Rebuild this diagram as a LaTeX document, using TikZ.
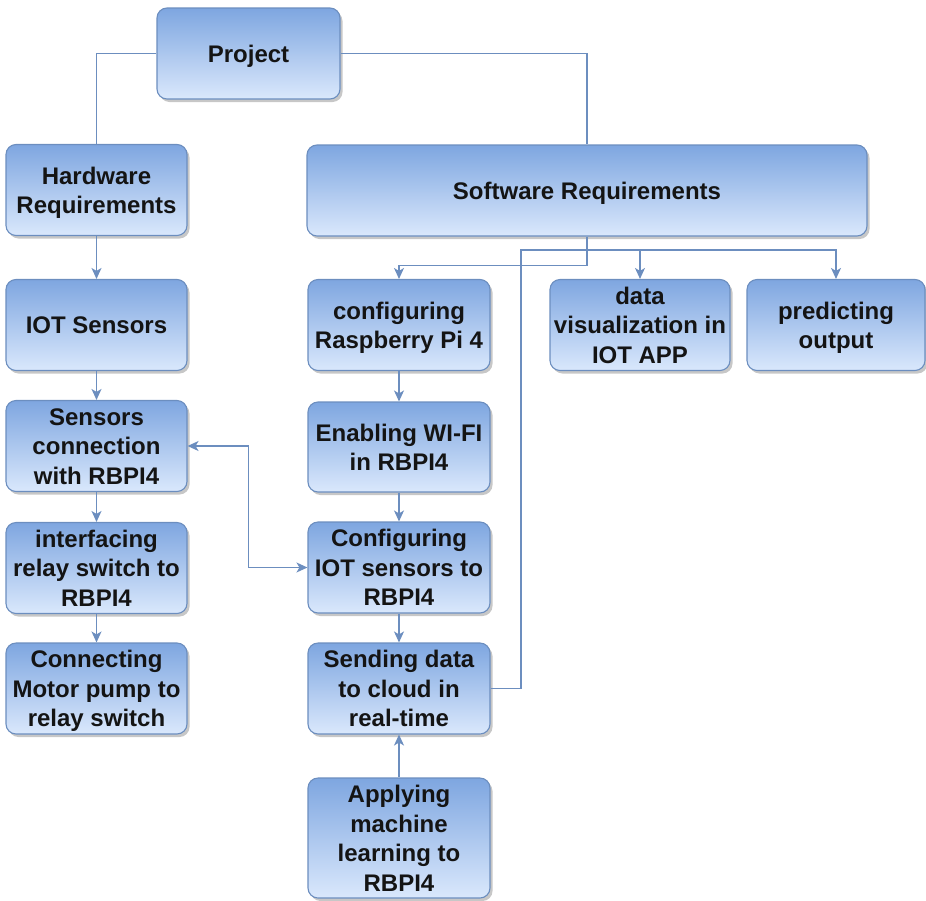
\documentclass[tikz,border=0pt]{standalone}
\usepackage{fontspec}
\setmainfont{Liberation Sans}
\usetikzlibrary{arrows.meta,shadows}
\definecolor{boxtop}{HTML}{7EA6E0}
\definecolor{boxbot}{HTML}{DAE8FC}
\definecolor{boxline}{HTML}{6C8EBF}
\definecolor{conn}{HTML}{6C8EBF}
\definecolor{txt}{HTML}{141414}
\newcommand\boxfont{\fontsize{24}{29.5}\selectfont\bfseries
  \setbox\strutbox\hbox{\vrule height 23.5pt depth 6pt width 0pt}}
\newcommand\bt[1]{\begin{tabular}{@{}c@{}}#1\end{tabular}}
\tikzset{
  box/.style={rectangle, rounded corners=10pt, draw=boxline, line width=1.1pt,
    top color=boxtop, bottom color=boxbot, minimum width=181pt, minimum height=91pt,
    inner sep=0pt, text=txt, font=\boxfont,
    drop shadow={shadow xshift=2.5pt, shadow yshift=-3pt, fill=black, opacity=0.22}},
  link/.style={draw=conn, line width=1.4pt},
  arr/.style={link, -{Stealth[length=11pt,width=10pt,inset=3pt]}},
  arrboth/.style={link, {Stealth[length=11pt,width=10pt,inset=3pt]}-{Stealth[length=11pt,width=10pt,inset=3pt]}}
}
\begin{document}
\begin{tikzpicture}[x=1pt,y=-1pt]
\useasboundingbox (0,0) rectangle (926,900);
% nodes
\node[box, minimum width=183pt] (proj) at (248.5,53.5) {\bt{Project}};
\node[box] (hw) at (96.5,190) {\bt{Hardware\\Requirements}};
\node[box, minimum width=560pt] (sw) at (587,190.5) {\bt{Software Requirements}};
\node[box] (iot) at (96.5,325) {\bt{IOT Sensors}};
\node[box] (sens) at (96.5,446) {\bt{Sensors\\connection\\with RBPI4}};
\node[box] (relay) at (96.5,568) {\bt{interfacing\\relay switch to\\RBPI4}};
\node[box] (motor) at (96.5,688.5) {\bt{Connecting\\Motor pump to\\relay switch}};
\node[box, minimum width=182pt] (rpi) at (399,325) {\bt{configuring\\Raspberry Pi 4}};
\node[box, minimum width=182pt, minimum height=90pt] (wifi) at (399,447) {\bt{Enabling WI-FI\\in RBPI4}};
\node[box, minimum width=182pt] (cfg) at (399,567.5) {\bt{Configuring\\IOT sensors to\\RBPI4}};
\node[box, minimum width=182pt] (send) at (399,688.5) {\bt{Sending data\\to cloud in\\real-time}};
\node[box, minimum width=182pt, minimum height=120pt] (ml) at (399,838) {\bt{Applying\\machine\\learning to\\RBPI4}};
\node[box, minimum width=180pt] (viz) at (640,325) {\bt{data\\visualization in\\IOT APP}};
\node[box, minimum width=178pt] (pred) at (836,325) {\bt{predicting\\output}};
% connectors
\draw[link] (proj.west) -| (hw.north);
\draw[link] (proj.east) -| (sw.north);
\draw[arr] (hw) -- (iot);
\draw[arr] (iot) -- (sens);
\draw[arr] (sens) -- (relay);
\draw[arr] (relay) -- (motor);
\draw[arr] (sw.south) -- ++(0,29) -| (rpi.north);
\draw[arr] (rpi) -- (wifi);
\draw[arr] (wifi) -- (cfg);
\draw[arr] (cfg) -- (send);
\draw[arr] (ml) -- (send);
\coordinate (j) at (521,250);
\draw[arr] (send.east) -| (j) -| (viz.north);
\draw[arr] (j) -| (pred.north);
\draw[arrboth] (sens.east) -- ++(61,0) |- (cfg.west);
\end{tikzpicture}
\end{document}
